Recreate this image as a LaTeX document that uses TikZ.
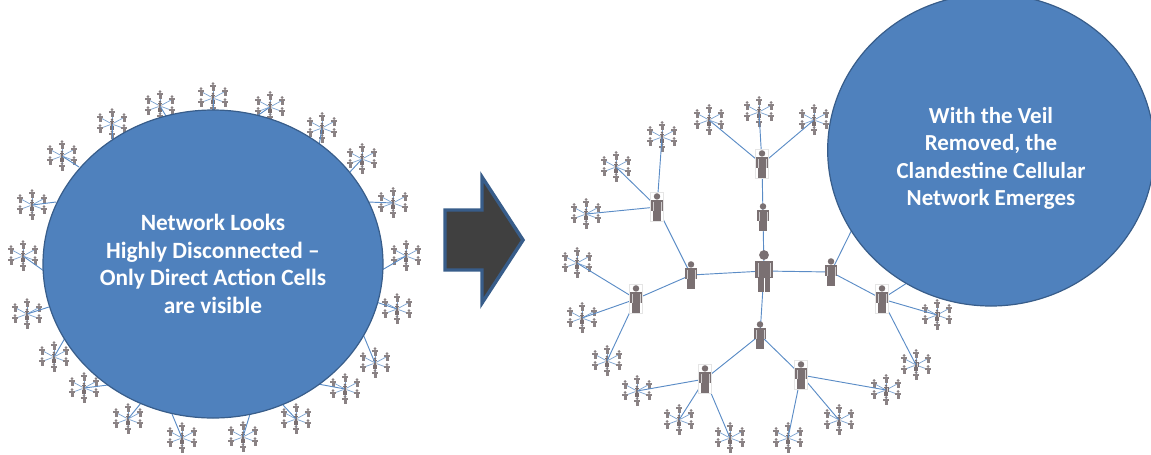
\documentclass[tikz,border=0pt]{standalone}
\usepackage{fontspec}
\setmainfont{Carlito}
\usetikzlibrary{shapes.geometric}
\definecolor{figgray}{HTML}{7A7072}
\definecolor{tinygray}{HTML}{8A8284}
\definecolor{blobfill}{HTML}{4F81BD}
\definecolor{blobedge}{HTML}{385D8A}
\definecolor{linkblue}{HTML}{5B8CC6}
\tikzset{
  x=0.75pt,y=-0.75pt,
  link/.style={draw=linkblue,line width=0.7pt},
  sublink/.style={draw=linkblue!80,line width=0.55pt},
  blob/.style={ellipse,draw=blobedge,line width=0.9pt,fill=blobfill,text=white,align=center,inner sep=0pt},
  backing/.style={draw=black!10,fill=white,line width=0.3pt},
  pics/figure/.style={code={
    \fill[figgray] (0,-16) circle (4.9);
    \fill[figgray] (-9.2,-10.5) rectangle (9.2,6.5);
    \fill[figgray] (-6,6) rectangle (-0.5,21);
    \fill[figgray] (0.5,6) rectangle (6,21);
    \draw[white!65!figgray,line width=.3pt] (-5.8,-8) -- (-5.8,6) (5.8,-8) -- (5.8,6);
  }},
  pics/tiny/.style={code={
    \fill[tinygray] (0,-3) circle (1.5);
    \fill[tinygray] (-3.4,-1.8) rectangle (3.4,0.8);
    \fill[tinygray] (-1.5,-1.8) rectangle (1.5,4.2);
  }},
}
% one cell: name, x, y
\newcommand{\cellat}[3]{%
  \coordinate (#1) at (#2,#3);
  \foreach \dx/\dy in {0/-11.5,12/-6.5,12/4.5,0/10.5,-12/4.5,-12/-6.5}{
    \draw[sublink] (#1) -- ++(\dx,\dy);
    \pic at ([xshift=\dx*0.75pt,yshift=-\dy*0.75pt]#1) {tiny};
  }
  \pic[scale=.27] at (#1) {figure};
}
\newcommand{\boxedat}[2]{%
  \path[backing] ([xshift=-5pt,yshift=-11pt]#1) rectangle ([xshift=5pt,yshift=11pt]#1);
  \pic[scale=#2] at (#1) {figure};}
\begin{document}
\begin{tikzpicture}
\useasboundingbox (0,0) rectangle (1151,454);
% ---------- left
\coordinate (A1) at (213,112);\coordinate (A2) at (166,116);\coordinate (A3) at (112,140);
\coordinate (A4) at (79,167);\coordinate (A5) at (56,202);\coordinate (A6) at (44,271);
\coordinate (A7) at (49,307);\coordinate (A8) at (65,338);\coordinate (A9) at (108,385);
\coordinate (A10) at (141,403);\coordinate (A11) at (172,414);\coordinate (A12) at (250,414);
\coordinate (A13) at (283,405);\coordinate (A14) at (318,384);\coordinate (A15) at (363,334);
\coordinate (A16) at (376,302);\coordinate (A17) at (382,270);\coordinate (A18) at (368,202);
\coordinate (A19) at (349,173);\coordinate (A20) at (319,146);\coordinate (A21) at (257,116);
\foreach \n/\x/\y in {1/213/98,2/160/106,3/112/124,4/62/156,5/32/205,6/23/256,7/27/314,8/54/357,9/84/388,10/128/419,11/182/438,12/243/437,13/296/419,14/345/389,15/375/363,16/397/309,17/406/256,18/393/203,19/362/159,20/322/128,21/270/107}{
  \cellat{L\n}{\x}{\y}
  \draw[link] (L\n) -- (A\n);
}
\node[blob,minimum width=255pt,minimum height=231pt] (netL) at (213,264) {};
\node[text=white,align=center,font=\bfseries\fontsize{17.5}{20.6}\selectfont] (labelL) at (netL.center) {Network Looks\\Highly Disconnected –\\Only Direct Action Cells\\are visible};
% ---------- arrow
\draw[draw=blobedge,line width=2.6pt,fill=black!75,miter limit=10] (445,210) -- (482,210) -- (482,177) -- (523,240) -- (482,303) -- (482,270) -- (445,270) -- cycle;
% ---------- right
\coordinate (hub) at (764,271);\coordinate (m1) at (763,217);\coordinate (m2) at (762,164);
\coordinate (m3) at (691,275);\coordinate (m4) at (657,207);\coordinate (m5) at (636,299);
\coordinate (m6) at (831,272);\coordinate (m7) at (882,299);\coordinate (m8) at (760,335);
\coordinate (m9) at (705,379);\coordinate (m10) at (801,375);
\coordinate (hideA) at (868,197);\coordinate (hideB) at (935,265);
\foreach \n/\x/\y in {a1/709/120,a2/759/112,a3/814/120,b1/662/137,b2/616/167,b3/586/214,c1/577/263,c2/582/318,c3/607/361,d1/937/315,d2/916/365,e1/637/391,e2/679/420,e3/730/438,f1/788/438,f2/839/420,f3/886/390}{
  \cellat{\n}{\x}{\y}
}
\foreach \p/\q in {hub/m1,m1/m2,m2/a1,m2/a2,m2/a3,hub/m3,m3/m4,m4/b1,m4/b2,m4/b3,m3/m5,m5/c1,m5/c2,m5/c3,hub/m6,m6/m7,m7/d1,m7/d2,m7/hideB,m6/hideA,hub/m8,m8/m9,m8/m10,m9/e1,m9/e2,m9/e3,m10/f1,m10/f2,m10/f3}{
  \draw[link] (\p) -- (\q);
}
\pic at (hub) {figure};
\pic[scale=.66] at (m1) {figure};
\pic[scale=.66] at (m3) {figure};
\pic[scale=.66] at (m6) {figure};
\pic[scale=.66] at (m8) {figure};
\boxedat{m2}{.66}\boxedat{m4}{.66}\boxedat{m5}{.66}\boxedat{m7}{.66}\boxedat{m9}{.66}\boxedat{m10}{.66}
\node[blob,minimum width=245pt,minimum height=234pt] (netR) at (991,150) {};
\node[text=white,align=center,font=\bfseries\fontsize{17.2}{20.6}\selectfont] (labelR) at (991,158.5) {With the Veil\\Removed, the\\Clandestine Cellular\\Network Emerges};
\end{tikzpicture}
\end{document}
